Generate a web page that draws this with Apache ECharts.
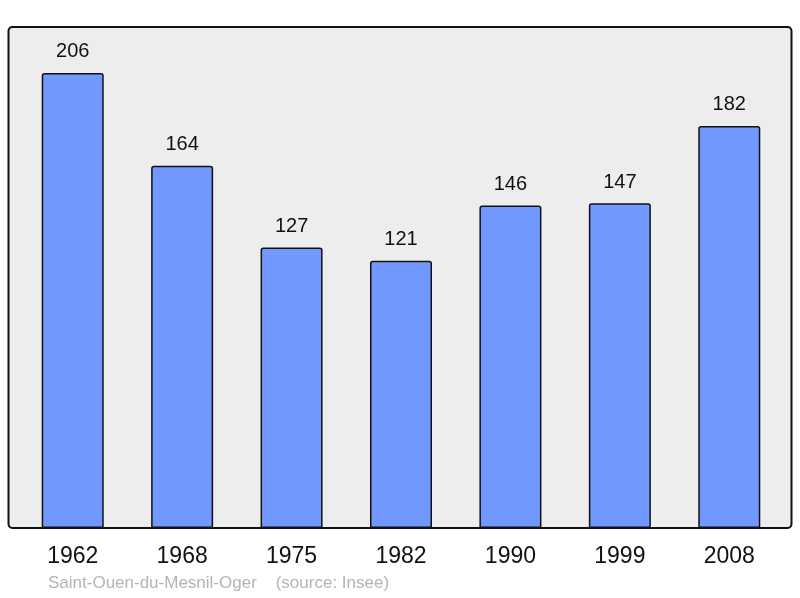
<!DOCTYPE html>
<html>
<head>
<meta charset="utf-8">
<script src="https://cdn.jsdelivr.net/npm/echarts@6/dist/echarts.min.js"></script>
<style>
  html, body { margin: 0; padding: 0; background: #fff; }
  #chart { width: 800px; height: 598px; }
</style>
</head>
<body>
<div id="chart"></div>
<script>
// années du recensement
const years = ['1962', '1968', '1975', '1982', '1990', '1999', '2008']
// population
const population = [206, 164, 127, 121, 146, 147, 182]
const footer = 'Saint-Ouen-du-Mesnil-Oger    (source: Insee)'

const chart = echarts.init(document.getElementById('chart'))
const option = {
  animation: false,
  backgroundColor: '#ffffff',
  graphic: [
    {
      type: 'rect',
      z: -10,
      shape: { x: 8.5, y: 27, width: 783, height: 501, r: 4 },
      style: { fill: '#ededed', stroke: '#111', lineWidth: 2 }
    },
    {
      type: 'text',
      left: 48,
      top: 575,
      style: {
        text: footer,
        fill: '#b4b4b4',
        font: '17px "Liberation Sans", Arial, sans-serif'
      }
    }
  ],
  grid: {
    left: 18,
    right: 16,
    top: 27,
    bottom: 70,
    containLabel: false
  },
  xAxis: {
    type: 'category',
    data: years,
    axisLine: { show: false },
    axisTick: { show: false },
    axisLabel: {
      color: '#111',
      fontSize: 23,
      fontFamily: '"Liberation Sans", Arial, sans-serif',
      margin: 17
    }
  },
  yAxis: {
    type: 'value',
    min: 0,
    max: 226.8,
    show: false,
    splitLine: { show: false }
  },
  series: [
    {
      type: 'bar',
      data: population,
      barWidth: 62,
      itemStyle: {
        color: '#7098ff',
        borderColor: '#111',
        borderWidth: 1.5,
        borderRadius: [2, 2, 0, 0]
      },
      label: {
        show: true,
        position: 'top',
        distance: 11,
        color: '#111',
        fontSize: 20,
        fontFamily: '"Liberation Sans", Arial, sans-serif'
      }
    }
  ]
}
chart.setOption(option)
window.addEventListener('resize', () => { chart.resize() })
</script>
</body>
</html>
